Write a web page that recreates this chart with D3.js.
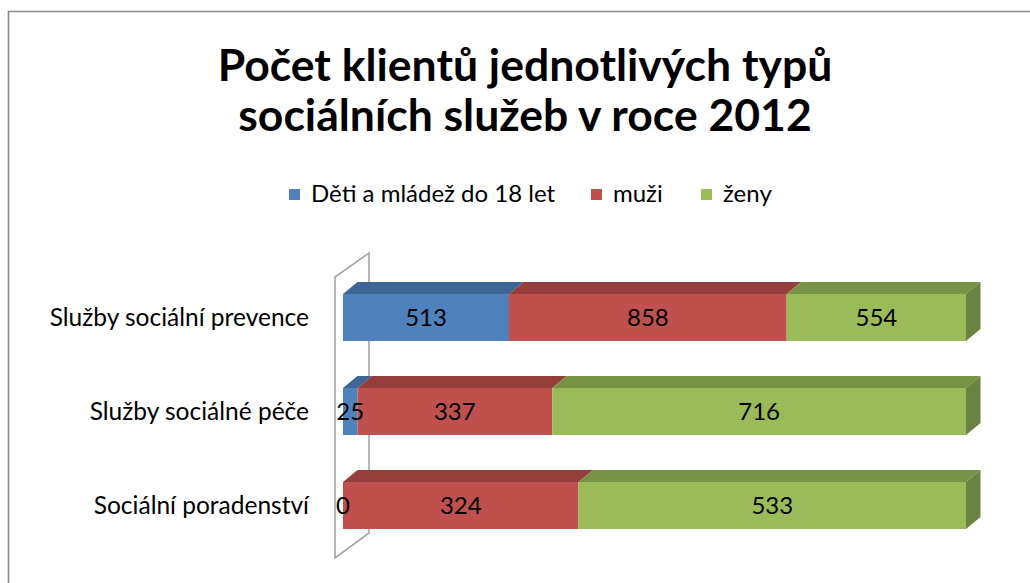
<!DOCTYPE html>
<html>
<head>
<meta charset="UTF-8">
<title>Počet klientů</title>
<style>
body, html {
	padding: 0;
	margin: 0;
	overflow: hidden;
	background: #ffffff;
}
text {
	font-family: Lato, 'Noto Sans', sans-serif;
	fill: #000000;
}
</style>
<script src="https://cdn.jsdelivr.net/npm/d3@7"></script>
</head>
<body>
<div id="chart"></div>
<script>
var categories = ["Služby sociální prevence", "Služby sociálné péče", "Sociální poradenství"];
var seriesNames = ["Děti a mládež do 18 let", "muži", "ženy"];
var deti = [513, 25, 0];
var muzi = [858, 337, 324];
var zeny = [554, 716, 533];
var titleLines = ["Počet klientů jednotlivých typů", "sociálních služeb v roce 2012"];

var front = ["#4F81BD", "#C0504D", "#9BBB59"];
var topFace = ["#3D6596", "#953E3C", "#799346"];
var sideFace = ["#36587f", "#843735", "#6A8340"];

var width = 1030;
var height = 583;

var svg = d3.select("#chart").append("svg")
	.attr("width", width)
	.attr("height", height);

// chart frame (only top and left edges are inside the picture)
svg.append("path")
	.attr("d", "M8.5,600 L8.5,11.5 L1040,11.5")
	.attr("fill", "none")
	.attr("stroke", "#8a8a8a")
	.attr("stroke-width", 1.6);

// title
svg.append("g").selectAll("text").data(titleLines).enter().append("text")
	.attr("x", 525)
	.attr("y", function(d, i) {return 81 + i*50})
	.attr("text-anchor", "middle")
	.attr("font-size", 44.5)
	.attr("font-weight", "bold")
	.text(function(d) {return d});

// legend
var legendX = [289, 591, 701];
var legend = svg.append("g").selectAll("g").data(seriesNames).enter().append("g")
	.attr("transform", function(d, i) {return "translate(" + legendX[i] + ",189)"});
legend.append("rect").attr("width", 11).attr("height", 11)
	.attr("fill", function(d, i) {return front[i]});
legend.append("text").attr("x", 22).attr("y", 13).attr("font-size", 24)
	.text(function(d) {return d});

var rows = categories.map(function(c, i) {
	var total = deti[i] + muzi[i] + zeny[i];
	var vals = [deti[i], muzi[i], zeny[i]];
	var x0 = 0;
	var segs = vals.map(function(v, k) {
		var s = {row: i, k: k, value: v, x0: x0 / total, x1: (x0 + v) / total};
		x0 += v;
		return s;
	});
	return {cat: c, segs: segs};
});

var x = d3.scaleLinear().domain([0, 1]).range([343, 966]);
var y = d3.scaleBand().domain(categories).range([270.5, 552.5]).paddingInner(0.5).paddingOuter(0.25);

var dx = 14.5;
var dy = 12;

// side wall
var wall = svg.append("g");
wall.append("path")
	.attr("d", "M335,558 L335,277 L369,253 L369,533 Z")
	.attr("fill", "#ffffff")
	.attr("stroke", "#a6a6a6")
	.attr("stroke-width", 1.6);

// category labels
svg.append("g").selectAll("text").data(categories).enter().append("text")
	.attr("x", 309)
	.attr("y", function(d) {return y(d) + y.bandwidth()/2})
	.attr("dy", "0.35em")
	.attr("text-anchor", "end")
	.attr("font-size", 24.5)
	.text(function(d) {return d});

var bars = svg.append("g").selectAll("g").data(rows).enter().append("g");
var bh = y.bandwidth();

bars.each(function(r) {
	var g = d3.select(this);
	var y0 = y(r.cat);
	r.segs.forEach(function(s) {
		var a = x(s.x0), b = x(s.x1);
		if (b - a <= 0) return;
		// top face
		g.append("path")
			.attr("d", "M" + a + "," + y0 + " L" + (a + dx) + "," + (y0 - dy) + " L" + (b + dx) + "," + (y0 - dy) + " L" + b + "," + y0 + " Z")
			.attr("fill", topFace[s.k]);
		// front face
		g.append("rect")
			.attr("x", a).attr("y", y0)
			.attr("width", b - a).attr("height", bh)
			.attr("fill", front[s.k]);
	});
	// right end face
	var last = r.segs[r.segs.length - 1];
	var e = x(1);
	g.append("path")
		.attr("d", "M" + e + "," + y0 + " L" + (e + dx) + "," + (y0 - dy) + " L" + (e + dx) + "," + (y0 + bh - dy) + " L" + e + "," + (y0 + bh) + " Z")
		.attr("fill", sideFace[last.k]);
	// value labels
	g.selectAll("text").data(r.segs).enter().append("text")
		.attr("x", function(s) {return (x(s.x0) + x(s.x1))/2})
		.attr("y", y0 + bh/2)
		.attr("dy", "0.37em")
		.attr("text-anchor", "middle")
		.attr("font-size", 24)
		.text(function(s) {return s.value});
});
</script>
</body>
</html>
